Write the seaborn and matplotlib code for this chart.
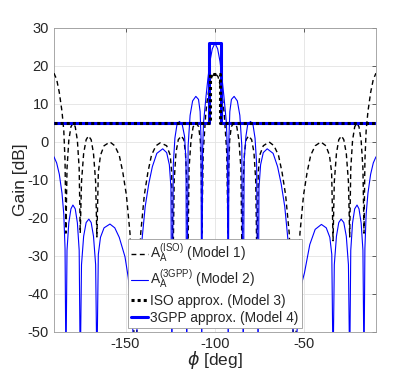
import numpy as np
import pandas as pd
import matplotlib
matplotlib.use("Agg")
import matplotlib.pyplot as plt
import seaborn as sns

# Model 1: A_A^(ISO), array pattern with isotropic elements
iso_phi = [-190, -188.5, -187, -185.5, -184.5, -183.8, -183.3,
           -182.7, -181.7, -180.5, -179.3, -178.1, -176.9, -175.9, -175.3,
           -174.6, -173.4, -172.0, -170.7, -169.2, -167.9, -166.7, -166.0,
           -165.2, -164.0, -162.0, -158.7, -156.0, -153.5, -151.5, -149.5, -147.5, -144.5,
           -141.5, -139.5, -137.5, -135.5, -133.0, -130.5, -127.0, -125.0, -124.2, -123.5,
           -122.8, -121.8, -120.5, -118.8, -117.4, -116.5, -115.8, -115.2,
           -114.5, -113.4, -112.2, -110.5, -109.1, -108.2, -107.7, -107.3,
           -106.6, -105.8, -105.1, -104.3, -103.3, -101.7, -100.0,
           -98.3, -96.7, -95.7, -94.9, -94.2, -93.4, -92.7,
           -92.3, -91.8, -90.9, -89.5, -87.8, -86.6, -85.5, -84.8,
           -84.2, -83.5, -82.6, -81.2, -79.5, -78.2, -77.2, -76.5,
           -75.8, -75.0, -73.0, -69.7, -67.0, -64.5, -62.5, -60.5, -58.5, -55.5,
           -52.5, -50.5, -48.5, -46.5, -44.0, -40.8, -38.0, -36.0, -34.8, -34.0,
           -33.3, -32.1, -30.8, -29.3, -28.0, -26.6, -25.4, -24.7,
           -24.1, -23.1, -21.9, -20.7, -19.5, -18.3, -17.3, -16.7,
           -16.2, -15.5, -14.5, -13.0, -11.5, -10.0]
iso_gain = [18.1, 16.5, 13.0, 8.0, 3.0, -5.0, -24,
            -7, 0.4, 4.0, 5.0, 4.0, 0.4, -7, -24,
            -10.5, -3.0, 0.6, 1.6, 0.6, -3.0, -10.5, -25,
            -8, -3.5, -1.0, 0.0, -1.0, -3.5, -8, -14, -24, -60,
            -24, -14, -8, -3.5, -1.0, -0.2, -1.0, -3.5, -8, -35,
            -10.3, -2.8, 0.6, 1.6, 0.6, -2.8, -10.3, -35,
            -7, 0.4, 4.0, 5.0, 4.0, 0.4, -7, -24,
            -3, 3, 7.8, 11, 14.2, 17.2, 18.1,
            17.2, 14.2, 11, 7.8, 3, -3, -24,
            -7, 0.4, 4.0, 5.0, 4.0, 0.4, -7, -35,
            -10.3, -2.8, 0.6, 1.6, 0.6, -2.8, -10.3, -35,
            -8, -3.5, -1.0, 0.0, -1.0, -3.5, -8, -14, -24, -60,
            -24, -14, -8, -3.5, -1.0, 0.0, -1.0, -3.5, -8, -26,
            -10.5, -3.0, 0.6, 1.6, 0.6, -3.0, -10.5, -25,
            -7, 0.4, 4.0, 5.0, 4.0, 0.4, -7, -24,
            -5, 3, 8, 13, 16.5, 18.1]

# Model 2: A_A^(3GPP), array pattern with 3GPP elements
gpp_phi = [-190, -188.5, -187, -185.5, -184.5, -183.8, -183.3,
           -182.7, -181.7, -180.5, -179.4, -178.1, -176.9, -175.9, -175.3,
           -174.6, -173.4, -172.0, -170.5, -169.2, -167.9, -166.7, -166.0,
           -165.2, -164.0, -162.0, -158.7, -156.0, -153.5, -150.3, -148.5, -146.5, -144.8,
           -142.0, -140.9, -139.0, -137.0, -135.0, -132.5, -129.2, -127.0, -125.5, -124.6, -124.1,
           -123.3, -122.4, -121.3, -119.9, -118.3, -117.0, -116.2, -115.8,
           -115.0, -113.9, -112.5, -110.7, -109.2, -108.3, -107.8, -107.4,
           -106.9, -106.4, -105.8, -105.0, -104.0, -102.8, -101.5, -100.0,
           -98.5, -97.2, -96.0, -95.0, -94.2, -93.6, -93.1, -92.6,
           -92.2, -91.7, -90.8, -89.3, -87.5, -86.1, -85.0, -84.2,
           -83.7, -82.7, -81.7, -80.1, -78.7, -77.6, -76.7, -75.9,
           -75.4, -74.5, -73.0, -70.8, -67.5, -65.0, -63.0, -61.0, -59.1, -58.0, -55.2,
           -53.5, -52.0, -50.0, -47.0, -44.0, -40.5, -37.8, -35.8, -34.7, -34.0,
           -33.3, -32.1, -30.8, -29.5, -28.0, -26.6, -25.4, -24.7,
           -24.1, -23.1, -21.9, -20.6, -19.5, -18.3, -17.3, -16.7,
           -16.2, -15.5, -14.5, -13.0, -11.5, -10.0]
gpp_gain = [-3.9, -5.5, -8.5, -13.5, -19, -28, -60,
            -28.5, -21.3, -17.6, -16.6, -17.6, -21.3, -28.5, -60,
            -32.3, -24.8, -21.2, -20.3, -21.2, -24.8, -32.3, -60,
            -29.6, -25.1, -22.6, -21.6, -22.6, -25.1, -30.2, -35.6, -44, -60,
            -35, -26.3, -17, -11, -6.5, -3, -1.8, -2.8, -6, -12, -60,
            -6, 1.0, 4.4, 5.4, 4.6, 1.5, -5, -60,
            -1, 7, 10.8, 12.0, 11.2, 8, 1, -60,
            -2, 5, 8, 12, 16.5, 21.2, 24.5, 26.0,
            24.5, 21.2, 16.5, 12, 8, 5, -2, -60,
            1, 8, 11.2, 12.0, 10.8, 7, -1, -60,
            -5, 1.5, 4.6, 5.4, 4.4, 1.0, -6, -60,
            -12, -6, -2.8, -1.8, -3, -6.5, -11, -17, -26.3, -35, -60,
            -44, -38, -34.5, -27, -23, -21.7, -22.6, -25.1, -29.6, -60,
            -32.3, -24.8, -21.2, -20.3, -21.2, -24.8, -32.3, -60,
            -28.5, -21.3, -17.6, -16.6, -17.6, -21.3, -28.5, -60,
            -28, -19, -13.5, -8.5, -5.5, -3.9]

# Model 3 / Model 4: step approximations
iso_apx_phi = [-190, -103, -103, -97.2, -97.2, -10]
iso_apx_gain = [5, 5, 18, 18, 5, 5]
gpp_apx_phi = [-190, -103.4, -103.4, -96.8, -96.8, -10]
gpp_apx_gain = [5, 5, 26, 26, 5, 5]

labels = [r'$\mathregular{A_A^{(ISO)}}$ (Model 1)',
          r'$\mathregular{A_A^{(3GPP)}}$ (Model 2)',
          'ISO approx. (Model 3)',
          '3GPP approx. (Model 4)']


def main():
    sns.set_style("white")
    plt.rcParams['font.family'] = ['Liberation Sans', 'DejaVu Sans']
    plt.rcParams['mathtext.fontset'] = 'dejavusans'
    plt.rcParams['axes.unicode_minus'] = False

    fig = plt.figure(figsize=(4.15, 3.73), dpi=100)
    ax = fig.add_axes([0.130, 0.110, 0.776, 0.815])

    common = dict(estimator=None, sort=False, ax=ax, legend=False)
    sns.lineplot(x=iso_phi, y=iso_gain, color='black', linewidth=1.0,
                 linestyle=(0, (3.5, 2.5)), zorder=3, **common)
    sns.lineplot(x=gpp_phi, y=gpp_gain, color='#0000ff', linewidth=0.8,
                 zorder=3, **common)
    sns.lineplot(x=gpp_apx_phi, y=gpp_apx_gain, color='#0000ff', linewidth=2.2,
                 zorder=4, **common)
    sns.lineplot(x=iso_apx_phi, y=iso_apx_gain, color='black', linewidth=2.2,
                 linestyle=(0, (1, 1)), zorder=5, **common)

    ax.set_xlim(-190, -10)
    ax.set_ylim(-50, 30)
    ax.set_xticks([-150, -100, -50])
    ax.set_yticks(np.arange(-50, 31, 10))
    ax.grid(True, color='#e3e3e3', linewidth=0.6)
    ax.set_axisbelow(True)
    ax.tick_params(direction='in', length=3, width=0.5, colors='#262626',
                   labelsize=10.5, top=True, right=True, pad=3.5)
    for s in ax.spines.values():
        s.set_color('#9a9a9a')
        s.set_linewidth(0.6)

    ax.set_xlabel(r'$\phi$ [deg]', fontsize=12.5, color='#262626', labelpad=-1)
    ax.set_ylabel('Gain [dB]', fontsize=12.5, color='#262626', labelpad=0)

    handles = [
        plt.Line2D([], [], color='black', linewidth=1.0, linestyle=(0, (3.5, 2.5))),
        plt.Line2D([], [], color='#0000ff', linewidth=0.8),
        plt.Line2D([], [], color='black', linewidth=2.2, linestyle=(0, (1, 1))),
        plt.Line2D([], [], color='#0000ff', linewidth=2.2),
    ]
    leg = ax.legend(handles, labels, loc='lower center', fontsize=9.9,
                    frameon=True, fancybox=False, framealpha=1,
                    edgecolor='#9a9a9a', borderaxespad=0.3,
                    handlelength=1.2, handletextpad=0.2, labelspacing=0.22,
                    borderpad=0.2)
    leg.get_frame().set_linewidth(0.6)
    leg.set_zorder(10)

    fig.savefig("out.png", dpi=100)


if __name__ == "__main__":
    main()
